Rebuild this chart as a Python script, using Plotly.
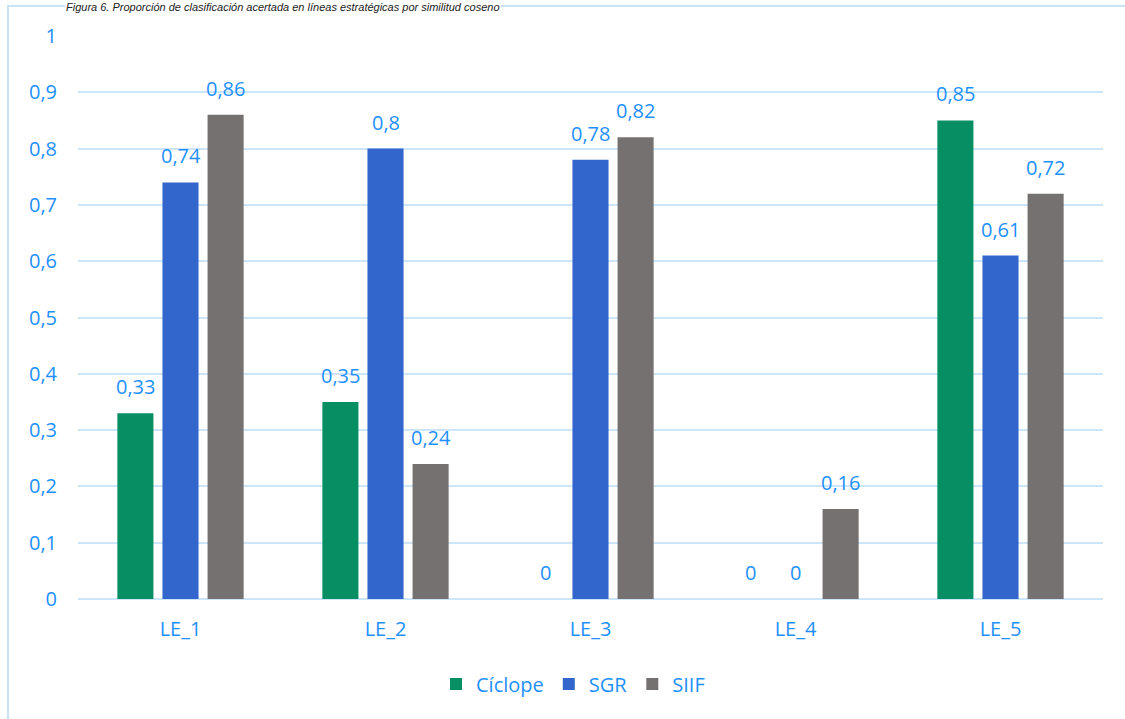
import plotly.graph_objects as go

categories = ["LE_1", "LE_2", "LE_3", "LE_4", "LE_5"]
ciclope = [0.33, 0.35, 0, 0, 0.85]
sgr = [0.74, 0.80, 0.78, 0, 0.61]
siif = [0.86, 0.24, 0.82, 0.16, 0.72]
series_names = ["Cíclope", "SGR", "SIIF"]
colors = ["#078F63", "#3366CC", "#767171"]
title_text = "Figura 6. Proporción de clasificación acertada en líneas estratégicas por similitud coseno"

FONT = "Open Sans"
TXT = "#1E90FF"

def fmt(v):
    return ("%g" % v).replace(".", ",")

L, R, T, B = 78, 22, 36, 120
W, H = 1125, 719
ph = H - T - B
pw = W - L - R

fig = go.Figure()
annotations = []
series = [ciclope, sgr, siif]
for i, (name, vals, col) in enumerate(zip(series_names, series, colors)):
    fig.add_trace(go.Bar(
        x=categories, y=vals, name=name,
        marker=dict(color=col, line=dict(width=0)),
        cliponaxis=False,
    ))
    for c, v in zip(categories, vals):
        annotations.append(dict(
            x=c, y=v, xref="x", yref="y", text=fmt(v), showarrow=False,
            xshift=(i - 1) * 45, yshift=11, yanchor="bottom", xanchor="center",
            font=dict(family=FONT, size=20, color=TXT),
        ))

annotations.append(dict(
    text="<i>" + title_text + "</i>", xref="paper", yref="paper",
    x=(65 - L) / pw, xanchor="left", y=1 + (T - 0) / ph, yanchor="top",
    showarrow=False, bgcolor="white", borderpad=0,
    font=dict(family="Liberation Sans", size=11, color="#222222")))

fig.update_layout(
    width=W, height=H,
    margin=dict(l=L, r=R, t=T, b=B),
    paper_bgcolor="white", plot_bgcolor="white",
    barmode="group", bargap=0.34, bargroupgap=0.2,
    separators=",.",
    font=dict(family=FONT, size=20, color=TXT),
    showlegend=True,
    legend=dict(orientation="h", x=(573 - L) / pw, xanchor="center", y=-(684 - 599) / ph, yanchor="middle",
                font=dict(size=20, color=TXT, family=FONT), itemwidth=30, traceorder="normal"),
    xaxis=dict(showgrid=False, showline=False, ticks="", tickfont=dict(size=20, color=TXT),
               ticklabelstandoff=16),
    yaxis=dict(range=[0, 1], dtick=0.1, showgrid=True, gridcolor="#CDE5F8", gridwidth=2,
               zeroline=True, zerolinecolor="#CDE5F8", zerolinewidth=2,
               showline=False, ticks="", tickfont=dict(size=20, color=TXT),
               ticklabelstandoff=20, tickformat="~g"),
    shapes=[dict(type="rect", xref="paper", yref="paper",
                 x0=(8 - L) / pw, x1=(W + 10 - L) / pw,
                 y0=-(H + 10 - T - ph) / ph, y1=1 + (T - 6) / ph,
                 line=dict(color="#C9E2F6", width=2), fillcolor="rgba(0,0,0,0)", layer="below")],
    annotations=annotations,
)

fig.write_html("out.html")
